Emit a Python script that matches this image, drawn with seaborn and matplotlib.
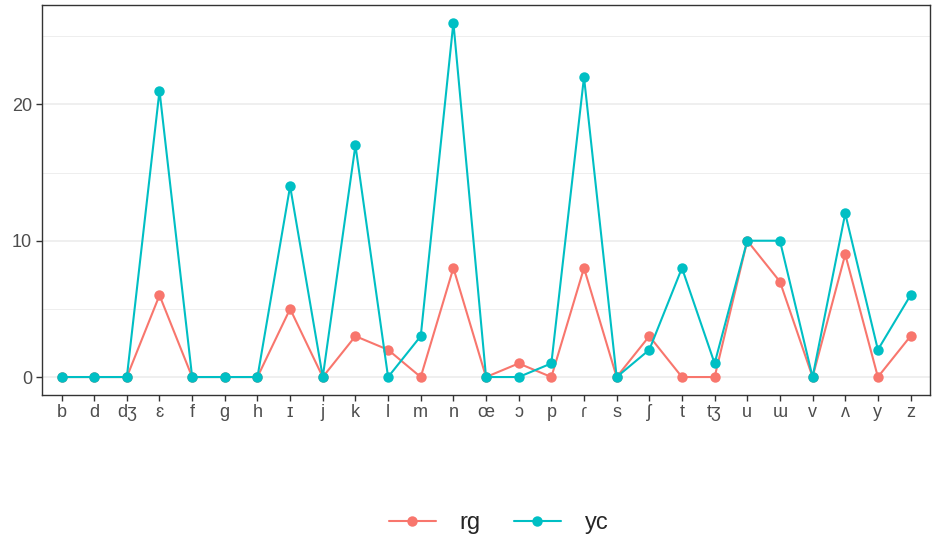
import pandas as pd
import matplotlib.pyplot as plt
import seaborn as sns

# sounds on the x axis
sounds = ['b', 'd', 'dʒ', 'ɛ', 'f', 'g', 'h', 'ɪ', 'j', 'k', 'l', 'm', 'n', 'œ',
          'ɔ', 'p', 'ɾ', 's', 'ʃ', 't', 'tʒ', 'u', 'ɯ', 'v', 'ʌ', 'y', 'z']

# counts per speaker
rg = [0, 0, 0, 6, 0, 0, 0, 5, 0, 3, 2, 0, 8, 0, 1, 0, 8, 0, 3, 0, 0, 10, 7, 0, 9, 0, 3]
yc = [0, 0, 0, 21, 0, 0, 0, 14, 0, 17, 0, 3, 26, 0, 0, 1, 22, 0, 2, 8, 1, 10, 10, 0, 12, 2, 6]

groups = ['rg', 'yc']
colors = ['#F8766D', '#00BFC4']


def build_frame():
    return pd.DataFrame({
        'sound': sounds * 2,
        'count': rg + yc,
        'speaker': ['rg'] * len(sounds) + ['yc'] * len(sounds),
    })


def plot_counts(data):
    sns.set_style('white')
    plt.rcParams['font.family'] = ['Liberation Sans', 'DejaVu Sans']

    fig = plt.figure(figsize=(9.32, 5.43), dpi=100)
    ax = fig.add_axes([0.045, 0.273, 0.953, 0.718])

    sns.lineplot(data=data, x='sound', y='count', hue='speaker', hue_order=groups,
                 palette=colors, marker='o', markersize=7.5, markeredgewidth=0,
                 linewidth=1.5, sort=False, ax=ax)

    ax.set_xlim(-0.6, len(sounds) - 0.4)
    ax.set_ylim(-1.3, 27.3)
    ax.set_yticks([0, 10, 20])
    ax.set_yticks([5, 15, 25], minor=True)
    ax.grid(axis='y', which='major', color='#EBEBEB', linewidth=1.1)
    ax.grid(axis='y', which='minor', color='#EBEBEB', linewidth=0.6)
    ax.grid(axis='x', visible=False)
    ax.set_axisbelow(True)
    for s in ax.spines.values():
        s.set_color('#333333')
        s.set_linewidth(1.0)

    ax.tick_params(axis='both', which='major', length=4, width=1, color='#333333',
                   labelsize=13, labelcolor='#4D4D4D', pad=3, left=True, bottom=True)
    ax.tick_params(axis='y', which='minor', length=0)
    ax.set_xlabel('')
    ax.set_ylabel('')

    handles, labels = ax.get_legend_handles_labels()
    ax.get_legend().remove()
    fig.legend(handles, labels, loc='center', bbox_to_anchor=(0.535, 0.037), ncol=2,
               frameon=False, fontsize=17, handlelength=2.0, handletextpad=1.0,
               columnspacing=1.4)

    fig.savefig('out.png', dpi=100)


def main():
    data = build_frame()
    plot_counts(data)


if __name__ == "__main__":
    main()
